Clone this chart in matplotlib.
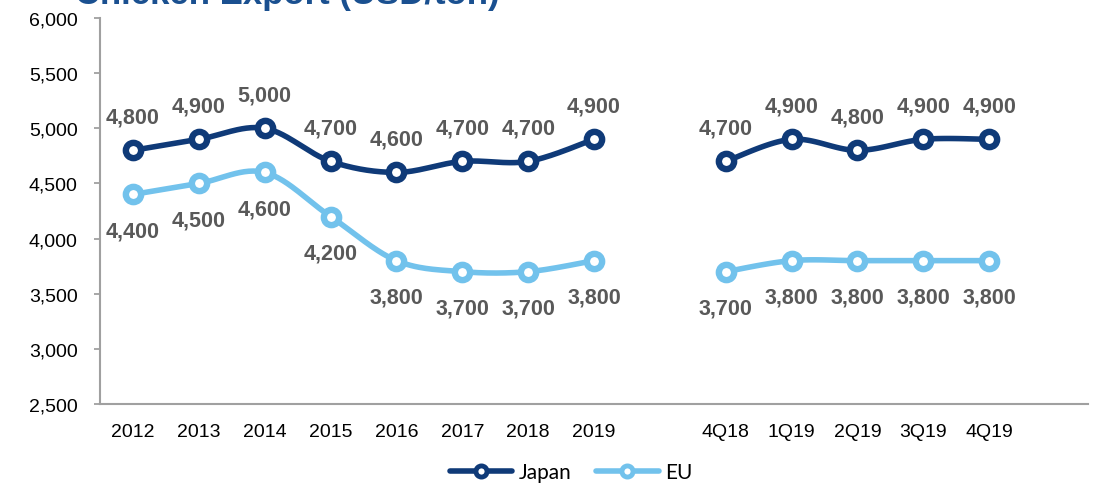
import numpy as np
import matplotlib
matplotlib.use("Agg")
import matplotlib.pyplot as plt
from matplotlib.ticker import FuncFormatter
from matplotlib.lines import Line2D

# data
years = ["2012", "2013", "2014", "2015", "2016", "2017", "2018", "2019"]
quarters = ["4Q18", "1Q19", "2Q19", "3Q19", "4Q19"]
japan_year = [4800, 4900, 5000, 4700, 4600, 4700, 4700, 4900]
eu_year = [4400, 4500, 4600, 4200, 3800, 3700, 3700, 3800]
japan_qtr = [4700, 4900, 4800, 4900, 4900]
eu_qtr = [3700, 3800, 3800, 3800, 3800]

JAPAN = "#0f3a78"
EU = "#72c2ec"
LABEL = "#595959"
AXIS = "#a0a0a0"

plt.rcParams["font.family"] = ["Liberation Sans", "DejaVu Sans"]

# years sit in slots 0..7, slot 8 is empty, quarters in 9..13, slot 14 empty
x_year = np.arange(len(years))
x_qtr = np.arange(len(quarters)) + len(years) + 1
n_slots = len(years) + 1 + len(quarters) + 1


def smooth(x, y, steps=30):
    # catmull-rom through the points, same look as excel's smoothed line
    p = np.column_stack([x, y]).astype(float)
    p = np.vstack([p[0], p, p[-1]])
    out = []
    t = np.linspace(0, 1, steps)[:, None]
    for i in range(1, len(p) - 2):
        p0, p1, p2, p3 = p[i - 1], p[i], p[i + 1], p[i + 2]
        seg = 0.5 * ((2 * p1) + (-p0 + p2) * t + (2 * p0 - 5 * p1 + 4 * p2 - p3) * t ** 2
                     + (-p0 + 3 * p1 - 3 * p2 + p3) * t ** 3)
        out.append(seg)
    out = np.vstack(out)
    return out[:, 0], out[:, 1]


fig = plt.figure(figsize=(10.94, 4.85), dpi=100)
ax = fig.add_axes([100 / 1094, 1 - 405 / 485, (1088 - 100) / 1094, (405 - 19) / 485])

mk = dict(marker="o", markersize=11, markeredgewidth=4.6, markerfacecolor="white", linestyle="none", zorder=4)

for xs, ys, col, dy in [(x_year, japan_year, JAPAN, 24), (x_qtr, japan_qtr, JAPAN, 24),
                        (x_year, eu_year, EU, -26), (x_qtr, eu_qtr, EU, -26)]:
    sx, sy = smooth(xs, ys)
    ax.plot(sx, sy, color=col, lw=4, solid_capstyle="round", zorder=3)
    ax.plot(xs, ys, color=col, markeredgecolor=col, **mk)
    for a, b in zip(xs, ys):
        ax.annotate(f"{b:,}", (a, b), xytext=(0, dy), textcoords="offset points",
                    ha="center", va="center", fontsize=15.5, fontweight="bold", color=LABEL)

ax.set_xlim(-0.5, n_slots - 0.5)
ax.set_ylim(2500, 6000)
ax.set_yticks(np.arange(2500, 6001, 500))
ax.yaxis.set_major_formatter(FuncFormatter(lambda v, _: f"{int(v):,}"))
ax.set_xticks(list(x_year) + list(x_qtr))
ax.set_xticklabels(years + quarters)
ax.tick_params(axis="y", length=4, width=1.3, color=AXIS, pad=12, labelsize=14)
ax.tick_params(axis="x", length=0, pad=14, labelsize=14)

for s in ["top", "right"]:
    ax.spines[s].set_visible(False)
for s in ["left", "bottom"]:
    ax.spines[s].set_color(AXIS)
    ax.spines[s].set_linewidth(1.5)

# title sits mostly above the canvas edge
fig.text(75 / 1094, 1 - 4 / 485, "Chicken Export (USD/ton)", fontsize=25, fontweight="bold",
         color="#1a5090", ha="left", va="baseline")

handles = [Line2D([], [], color=JAPAN, lw=4, marker="o", markersize=8, markeredgewidth=3.5,
                  markerfacecolor="white", markeredgecolor=JAPAN, solid_capstyle="round"),
           Line2D([], [], color=EU, lw=4, marker="o", markersize=8, markeredgewidth=3.5,
                  markerfacecolor="white", markeredgecolor=EU, solid_capstyle="round")]
fig.legend(handles, ["Japan", "EU"], loc="center", bbox_to_anchor=(571 / 1094, 1 - 473 / 485),
           ncol=2, frameon=False, handlelength=3.0, handletextpad=0.3, columnspacing=1.2,
           prop={"family": ["Lato", "DejaVu Sans"], "size": 15})

fig.savefig("out.png", dpi=100)
